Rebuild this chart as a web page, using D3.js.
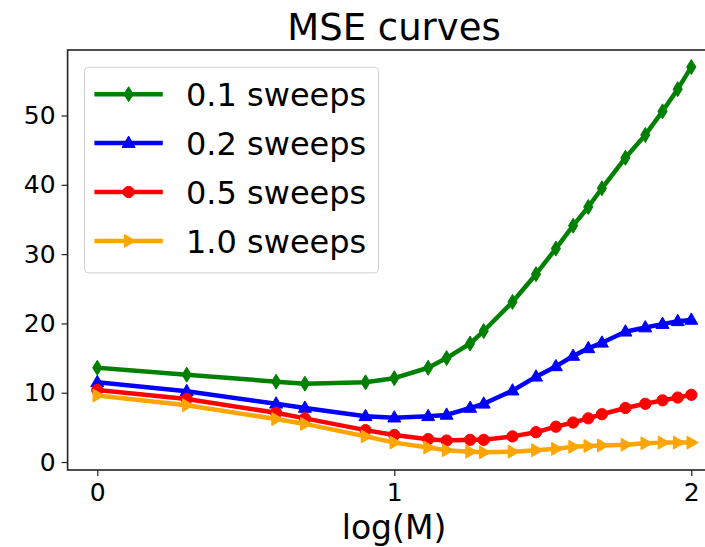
<!DOCTYPE html>
<html>
<head>
<meta charset="utf-8">
<script src="https://cdn.jsdelivr.net/npm/d3@7"></script>
<style>
  html, body { margin: 0; padding: 0; background: #fff; }
  svg { display: block; font-family: "DejaVu Sans", sans-serif; }
</style>
</head>
<body>
<svg id="chart" width="705" height="547"></svg>
<script>
// M values on the x axis (plotted as log10 M)
const M = [1, 2, 4, 5, 8, 10, 13, 15, 18, 20, 25, 30, 35, 40, 45, 50, 60, 70, 80, 90, 100];

const sweeps01 = [13.6, 12.6, 11.6, 11.3, 11.5, 12.1, 13.6, 15.0, 17.1, 18.9, 23.1, 27.1, 30.8, 34.1, 36.8, 39.5, 43.9, 47.2, 50.6, 53.8, 57.0];
const sweeps02 = [11.5, 10.2, 8.4, 7.8, 6.6, 6.4, 6.6, 6.8, 7.8, 8.4, 10.3, 12.3, 13.8, 15.3, 16.4, 17.2, 18.8, 19.4, 19.9, 20.3, 20.5];
const sweeps05 = [10.4, 9.1, 7.1, 6.3, 4.6, 3.9, 3.3, 3.1, 3.2, 3.2, 3.7, 4.3, 5.1, 5.7, 6.3, 6.9, 7.8, 8.4, 8.9, 9.3, 9.7];
const sweeps10 = [9.6, 8.2, 6.2, 5.5, 3.7, 2.8, 2.1, 1.7, 1.5, 1.4, 1.5, 1.7, 1.9, 2.2, 2.3, 2.4, 2.5, 2.7, 2.8, 2.8, 2.8];

const seriesNames = ['0.1 sweeps', '0.2 sweeps', '0.5 sweeps', '1.0 sweeps'];
const seriesColors = ['#008000', '#0000ff', '#ff0000', '#ffa500'];
const seriesMarkers = ['diamond', 'triangleUp', 'circle', 'triangleRight'];
const xTicks = [0, 1, 2];
const yTicks = [0, 10, 20, 30, 40, 50];

const series = [sweeps01, sweeps02, sweeps05, sweeps10].map((vals, i) => ({
  name: seriesNames[i],
  color: seriesColors[i],
  marker: seriesMarkers[i],
  points: vals.map((v, j) => [Math.log10(M[j]), v])
}));

const svg = d3.select('#chart');
svg.append('rect').attr('width', 705).attr('height', 547).attr('fill', '#fff');

const plotL = 67.6, plotR = 721, plotT = 50, plotB = 470;
const x = d3.scaleLinear().domain([-0.1, 2.1]).range([plotL, plotR]);
const y = d3.scaleLinear().domain([-1.15, 59.45]).range([plotB, plotT]);

// marker shapes, drawn as paths centred at 0,0
function markerPath(kind) {
  if (kind === 'diamond') return 'M0,-7.5 L4.6,0 L0,7.5 L-4.6,0 Z';
  if (kind === 'triangleUp') return 'M0,-7 L6.5,4.3 L-6.5,4.3 Z';
  if (kind === 'triangleRight') return 'M7,0 L-4.3,-6.5 L-4.3,6.5 Z';
  return d3.symbol(d3.symbolCircle, 100)();
}

const line = d3.line().x(d => x(d[0])).y(d => y(d[1]));

series.forEach(s => {
  const g = svg.append('g');
  g.append('path')
    .attr('d', line(s.points))
    .attr('fill', 'none')
    .attr('stroke', s.color)
    .attr('stroke-width', 4.5)
    .attr('stroke-linejoin', 'round')
    .attr('stroke-linecap', 'square');
  g.selectAll('path.mk').data(s.points).join('path')
    .attr('class', 'mk')
    .attr('d', markerPath(s.marker))
    .attr('transform', d => `translate(${x(d[0])},${y(d[1])})`)
    .attr('fill', s.color)
    .attr('stroke', s.color)
    .attr('stroke-width', 1);
});

// spines
svg.append('rect')
  .attr('x', plotL).attr('y', plotT)
  .attr('width', plotR - plotL).attr('height', plotB - plotT)
  .attr('fill', 'none').attr('stroke', '#222').attr('stroke-width', 1.6);

// axes
const xAxis = svg.append('g')
  .attr('transform', `translate(0,${plotB})`)
  .call(d3.axisBottom(x).tickValues(xTicks).tickFormat(d3.format('d')).tickSize(6).tickPadding(7));
const yAxis = svg.append('g')
  .attr('transform', `translate(${plotL},0)`)
  .call(d3.axisLeft(y).tickValues(yTicks).tickFormat(d3.format('d')).tickSize(6).tickPadding(6));
[xAxis, yAxis].forEach(a => {
  a.select('.domain').remove();
  a.selectAll('.tick line').attr('stroke', '#222').attr('stroke-width', 1.2);
  a.selectAll('.tick text')
    .attr('fill', '#000')
    .style('font-family', '"DejaVu Sans", sans-serif')
    .style('font-size', '25px');
});

// title and axis label
svg.append('text')
  .attr('x', 394).attr('y', 40)
  .attr('text-anchor', 'middle')
  .style('font-size', '37px')
  .text('MSE curves');
svg.append('text')
  .attr('x', 394).attr('y', 539)
  .attr('text-anchor', 'middle')
  .style('font-size', '33px')
  .text('log(M)');

// legend
const legend = svg.append('g');
legend.append('rect')
  .attr('x', 84.5).attr('y', 67.3)
  .attr('width', 294).attr('height', 205.6)
  .attr('rx', 4)
  .attr('fill', '#fff').attr('fill-opacity', 0.8)
  .attr('stroke', '#d0d0d0').attr('stroke-width', 1);
series.forEach((s, i) => {
  const cy = 94.2 + i * 48.9;
  legend.append('line')
    .attr('x1', 94.4).attr('x2', 162.8)
    .attr('y1', cy).attr('y2', cy)
    .attr('stroke', s.color).attr('stroke-width', 4.5);
  legend.append('path')
    .attr('d', markerPath(s.marker))
    .attr('transform', `translate(128.6,${cy})`)
    .attr('fill', s.color).attr('stroke', s.color).attr('stroke-width', 1);
  legend.append('text')
    .attr('x', 186).attr('y', cy + 12)
    .style('font-size', '32px')
    .text(s.name);
});
</script>
</body>
</html>
